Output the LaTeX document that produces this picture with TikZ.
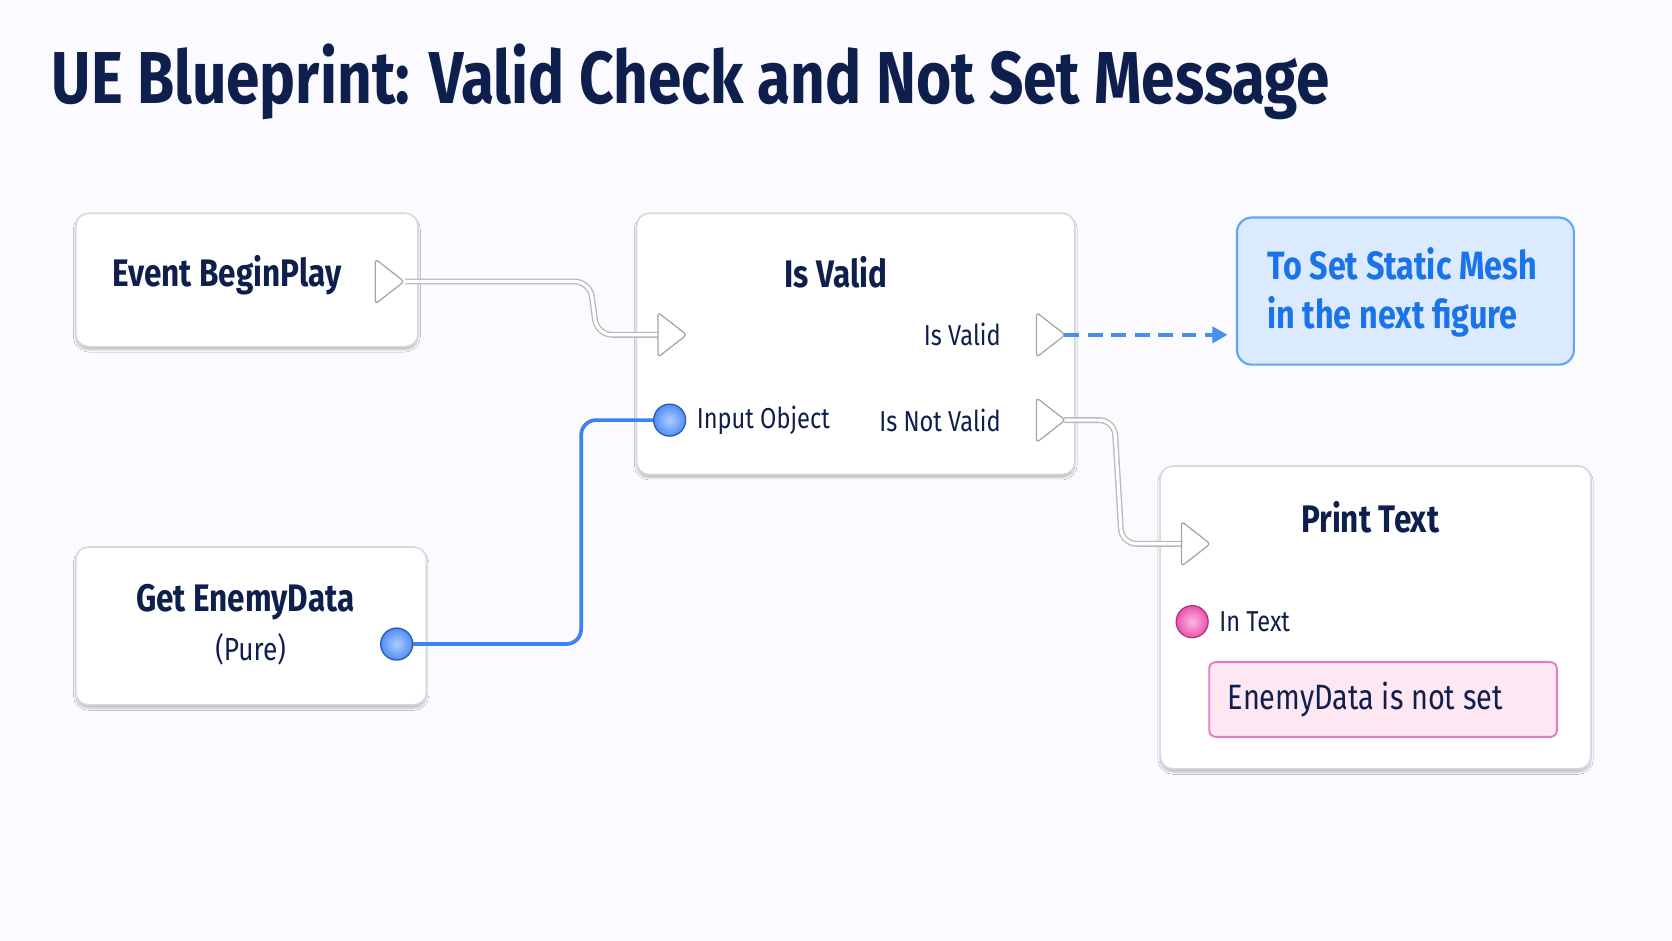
\documentclass[tikz,border=0pt]{standalone}
\usepackage{fontspec}
\setmainfont{Fira Sans}[FakeStretch=0.82]
\usetikzlibrary{shadows.blur}
\definecolor{navy}{HTML}{0F1F4D}
\definecolor{bbord}{HTML}{D6D9E0}
\definecolor{wblue}{HTML}{3B82F6}
\definecolor{tblue}{HTML}{1A73E8}
\definecolor{bfill}{HTML}{DBEAFE}
\definecolor{bline}{HTML}{60A5FA}
\definecolor{pfill}{HTML}{FDE7F3}
\definecolor{pline}{HTML}{E879C0}
\definecolor{pinpink}{HTML}{F050B0}
\begin{document}
\begin{tikzpicture}[x=1pt,y=-1pt,
  box/.style={draw=bbord,line width=1.5pt,rounded corners=12pt,fill=white,blur shadow={shadow blur steps=6,shadow xshift=0pt,shadow yshift=-3pt,shadow opacity=25}},
  ttl/.style={font=\fontsize{36}{40}\selectfont\bfseries,text=navy},
  lbl/.style={font=\fontsize{27}{30}\selectfont\fontseries{m}\selectfont,text=navy},
  execpin/.style={draw=gray!70,fill=white,line width=1.2pt,line join=round},
  dpin/.style={circle,minimum size=30pt,inner sep=0pt,line width=1.2pt},
  wire/.style={rounded corners=14pt}]
\useasboundingbox[fill=white] (0,0) rectangle (1568,882);
\fill[blue!2] (0,0) rectangle (1568,882);
\node[anchor=base west,font=\fontsize{69}{74}\selectfont\bfseries,text=navy] (title) at (45,97) {UE Blueprint: Valid Check and Not Set Message};
% boxes
\draw[box] (71,200) rectangle (392,325);
\node[ttl] (ev) at (213,258) {Event BeginPlay};
\draw[box] (597,200) rectangle (1008,445);
\node[ttl] (iv) at (784,255) {Is Valid};
\draw[box] (71,513) rectangle (400,661);
\node[ttl] (ged) at (230,565) {Get EnemyData};
\node[lbl,font=\fontsize{30}{34}\selectfont] (pure) at (235,609) {(Pure)};
\draw[box] (1088,437) rectangle (1492,721);
\node[ttl] (pt) at (1285,485) {Print Text};
\draw[draw=bline,fill=bfill,line width=2pt,rounded corners=14pt] (1160,204) rectangle (1476,342);
\node[anchor=west,align=left,font=\fontsize{37}{46}\selectfont\bfseries,text=tblue] (next) at (1185,274) {To Set Static Mesh\\in the next figure};
\draw[draw=pline,fill=pfill,line width=1.8pt,rounded corners=6pt] (1134,621) rectangle (1460,691);
\node[anchor=west,lbl,font=\fontsize{33}{36}\selectfont] (msg) at (1148,656) {EnemyData is not set};
% labels
\node[lbl,anchor=east] (lv) at (942,314) {Is Valid};
\node[lbl,anchor=east] (lnv) at (942,394) {Is Not Valid};
\node[lbl,anchor=west] (lio) at (650,394) {Input Object};
\node[lbl,anchor=west] (lit) at (1140,583) {In Text};
% coordinates
\coordinate (evout) at (380,264);
\coordinate (ivin) at (617,314);
\coordinate (vout) at (998,314);
\coordinate (nvout) at (998,394);
\coordinate (ptin) at (1108,510);
% wires
\foreach \w/\c in {5.5pt/gray!55,3pt/white}{
  \draw[wire,line width=\w,draw=\c] (evout) -- (553,264) -- (560,314) -- (ivin);
  \draw[wire,line width=\w,draw=\c] (nvout) -- (1045,394) -- (1052,510) -- (ptin);
}
\draw[wire,wblue,line width=3.5pt] (372,604) -- (545,604) -- (545,394) -- (628,394);
\draw[tblue!80,line width=3.5pt,dash pattern=on 14pt off 8pt] (vout) -- (1140,314);
\fill[tblue!80] (1151,314) -- (1137,306) -- (1137,322) -- cycle;
% pins
\foreach \x/\y in {352/264,617/314,972/314,972/394,1108/510}
  \draw[execpin,rounded corners=3pt] (\x,\y-21) -- (\x+27,\y) -- (\x,\y+21) -- cycle;
\node[dpin,draw=wblue!70!black,inner color=wblue!40,outer color=wblue!90] (pinged) at (372,604) {};
\node[dpin,draw=wblue!70!black,inner color=wblue!40,outer color=wblue!90] (pinio) at (628,394) {};
\node[dpin,draw=pinpink!70!black,inner color=pinpink!40,outer color=pinpink] (pinit) at (1118,583) {};
\end{tikzpicture}
\end{document}
